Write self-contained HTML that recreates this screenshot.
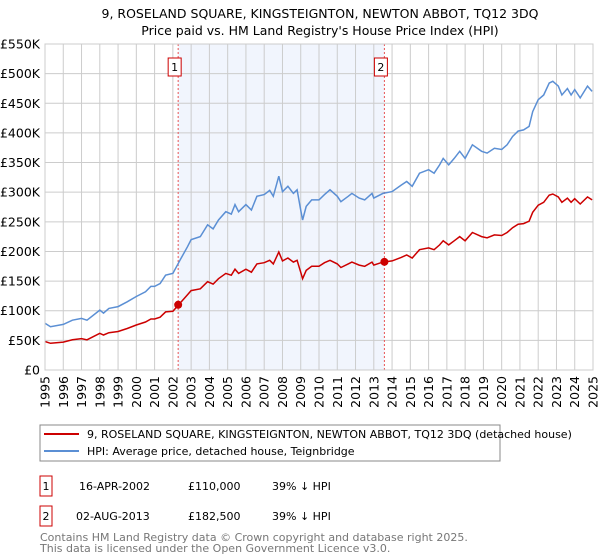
<!DOCTYPE html>
<html><head><meta charset="utf-8"><style>
body{margin:0;background:#fff;font-family:"DejaVu Sans","Liberation Sans",sans-serif;}
#wrap{position:relative;width:600px;height:560px;overflow:hidden;}
</style></head><body>
<div id="wrap">
<svg id="svg" width="600" height="560" xmlns="http://www.w3.org/2000/svg" font-family="DejaVu Sans, Liberation Sans, sans-serif">
<text x="320" y="18" font-size="12.5" text-anchor="middle">9, ROSELAND SQUARE, KINGSTEIGNTON, NEWTON ABBOT, TQ12 3DQ</text>
<text x="320" y="35" font-size="12.5" text-anchor="middle">Price paid vs. HM Land Registry's House Price Index (HPI)</text>
<g id="plot"></g>
<rect x="40" y="425" width="460" height="36" fill="#fff" stroke="#888"/>
<line x1="44" y1="434" x2="79" y2="434" stroke="#cc0000" stroke-width="2"/>
<text x="87" y="438" font-size="11">9, ROSELAND SQUARE, KINGSTEIGNTON, NEWTON ABBOT, TQ12 3DQ (detached house)</text>
<line x1="44" y1="451" x2="79" y2="451" stroke="#5b8fd4" stroke-width="2"/>
<text x="87" y="455" font-size="11">HPI: Average price, detached house, Teignbridge</text>
<rect x="40" y="476" width="12" height="20" fill="#fff" stroke="#cc0000"/>
<text x="46" y="490" font-size="11" text-anchor="middle">1</text>
<text x="79" y="490" font-size="11">16-APR-2002</text>
<text x="188" y="490" font-size="11">£110,000</text>
<text x="272" y="490" font-size="11">39% ↓ HPI</text>
<rect x="40" y="506" width="12" height="20" fill="#fff" stroke="#cc0000"/>
<text x="46" y="520" font-size="11" text-anchor="middle">2</text>
<text x="76" y="520" font-size="11">02-AUG-2013</text>
<text x="188" y="520" font-size="11">£182,500</text>
<text x="272" y="520" font-size="11">39% ↓ HPI</text>
<text x="40" y="541" font-size="11" fill="#777">Contains HM Land Registry data © Crown copyright and database right 2025.</text>
<text x="40" y="552" font-size="11" fill="#777">This data is licensed under the Open Government Licence v3.0.</text>
</svg>
</div>
<script>
const hpiYears=[1995,1995.3,1996,1996.5,1997,1997.3,1998,1998.2,1998.5,1999,1999.5,2000,2000.5,2000.8,2001,2001.3,2001.6,2002,2002.4,2002.8,2003,2003.5,2003.9,2004.2,2004.5,2004.9,2005.2,2005.4,2005.6,2006,2006.3,2006.6,2007,2007.3,2007.5,2007.8,2008,2008.3,2008.6,2008.8,2009,2009.1,2009.3,2009.6,2010,2010.3,2010.6,2011,2011.2,2011.6,2011.8,2012.2,2012.5,2012.9,2013,2013.5,2014,2014.5,2014.8,2015.1,2015.5,2016,2016.3,2016.6,2016.8,2017.1,2017.4,2017.7,2018,2018.4,2018.9,2019.2,2019.6,2020,2020.3,2020.6,2020.9,2021.2,2021.5,2021.7,2022,2022.3,2022.6,2022.8,2023.1,2023.3,2023.6,2023.8,2024,2024.3,2024.7,2024.95];
const hpiValues=[79,73,77,84,87,84,101,96,104,107,115,124,132,141,141,146,160,163,186,208,220,225,245,238,253,267,263,279,267,279,270,293,296,303,293,327,301,310,298,304,270,253,276,287,287,296,304,293,284,293,298,290,287,298,290,298,301,312,318,310,332,338,332,346,357,346,357,369,357,380,369,366,374,372,380,394,403,405,411,436,456,464,484,487,479,464,475,464,473,459,479,470];
const priceValues=[48,45,47,51,53,51,62,59,63,65,70,76,81,86,86,89,98,99,113,127,134,137,149,145,154,163,160,170,163,170,165,179,181,185,179,199,184,189,182,185,165,154,168,175,175,181,185,179,173,179,182,177,175,182,177,182,184,190,194,189,203,206,203,211,218,211,218,225,218,232,225,223,228,227,232,240,246,247,251,266,278,283,295,297,292,283,290,283,289,280,292,287];
const saleYears=[2002.29,2013.58];
const salePrices=[110,182.5];
const saleLabels=["1","2"];
const yTicks=[0,50,100,150,200,250,300,350,400,450,500,550];
const yTickLabels=["£0","£50K","£100K","£150K","£200K","£250K","£300K","£350K","£400K","£450K","£500K","£550K"];
const xTicks=[1995,1996,1997,1998,1999,2000,2001,2002,2003,2004,2005,2006,2007,2008,2009,2010,2011,2012,2013,2014,2015,2016,2017,2018,2019,2020,2021,2022,2023,2024,2025];

const X0=45,X1=593,Y0=370,Y1=44;
const xs=y=>X0+(y-1995)/30*(X1-X0);
const ys=v=>Y0-v/550*(Y0-Y1);
const NS="http://www.w3.org/2000/svg";
const g=document.getElementById('plot');
function mk(t,a){const e=document.createElementNS(NS,t);for(const k in a)e.setAttribute(k,a[k]);g.appendChild(e);return e;}

let e=mk('rect',{x:X0,y:Y1,width:X1-X0,height:Y0-Y1,fill:'#fff'});


e=mk('rect',{x:xs(saleYears[0]),y:Y1,width:xs(saleYears[1])-xs(saleYears[0]),height:Y0-Y1,fill:'#eef3fc',opacity:0.8});


yTicks.forEach((t,i)=>{
  const l=mk('line',{x1:X0,x2:X1,y1:ys(t),y2:ys(t),stroke:'#cccccc','stroke-width':1});
  
  
  const tx=mk('text',{x:40,y:ys(t)+4.5,'font-size':12.5,'text-anchor':'end'});
  tx.textContent=yTickLabels[i];
  
  
});
xTicks.forEach(t=>{
  const l=mk('line',{x1:xs(t),x2:xs(t),y1:Y1,y2:Y0,stroke:'#cccccc','stroke-width':1});
  
  
  const tx=mk('text',{x:0,y:0,'font-size':12.5,'text-anchor':'end',transform:`translate(${xs(t)+4.5},376) rotate(-90)`});
  tx.textContent=t;
  
  
});
saleYears.forEach((s,i)=>{
  const l=mk('line',{x1:xs(s),x2:xs(s),y1:Y1,y2:Y0,stroke:'#e85555','stroke-width':1,'stroke-dasharray':'2,2'});
  
  
  const r=mk('rect',{x:xs(s)-10,y:58,width:13,height:18,fill:'#fff',stroke:'#cc0000'});
  
  
  const tx=mk('text',{x:xs(s)-3.5,y:71,'font-size':11,'text-anchor':'middle'});
  tx.textContent=saleLabels[i];
  
  
});
const path=vals=>vals.map((v,i)=>(i?'L':'M')+xs(hpiYears[i]).toFixed(1)+','+ys(v).toFixed(1)).join('');
e=mk('path',{d:path(hpiValues),fill:'none',stroke:'#5b8fd4','stroke-width':1.5});


e=mk('path',{d:path(priceValues),fill:'none',stroke:'#cc0000','stroke-width':1.5});


saleYears.forEach((s,i)=>{
  const c=mk('circle',{cx:xs(s),cy:ys(salePrices[i]),r:4,fill:'#cc0000'});
  
  
});
e=mk('rect',{x:X0,y:Y1,width:X1-X0,height:Y0-Y1,fill:'none',stroke:'#cccccc'});


</script>
</body></html>
